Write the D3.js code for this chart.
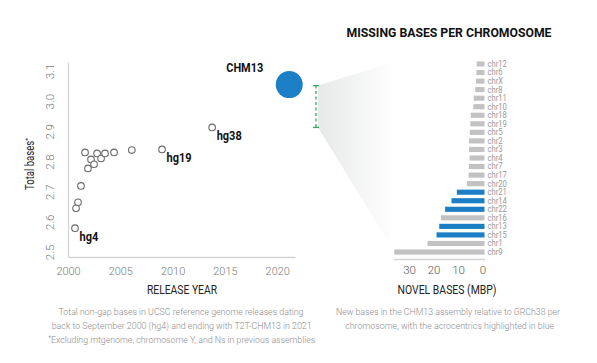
<!DOCTYPE html>
<html><head><meta charset="utf-8">
<script src="https://cdn.jsdelivr.net/npm/d3@7"></script>
<style>
html,body{margin:0;padding:0;background:#fff;}
svg{display:block;font-family:Roboto,"Noto Sans",sans-serif;}
</style></head>
<body>
<svg id="chart" width="597" height="363"></svg>
<script>
// ---------- data ----------
const releaseYears = [2000.67, 2000.77, 2000.96, 2001.24, 2001.63, 2001.91, 2002.2, 2002.49, 2002.78, 2003.16, 2003.54, 2004.4, 2006.1, 2008.99, 2013.78];
const totalBases   = [2.579, 2.645, 2.665, 2.719, 2.830, 2.777, 2.807, 2.791, 2.827, 2.810, 2.827, 2.830, 2.838, 2.840, 2.913];
const releaseNames = ["hg4", "", "", "", "", "", "", "", "", "", "", "", "", "hg19", "hg38"];
const chm13Year = 2021.15;
const chm13Total = 3.055;
const chm13Name = "CHM13";
const xTicks = [2000, 2005, 2010, 2015, 2020];
const yTicks = [2.5, 2.6, 2.7, 2.8, 2.9, 3.0, 3.1];

const chromosomes = ["chr12","chr6","chrX","chr8","chr11","chr10","chr18","chr19","chr5","chr2","chr3","chr4","chr7","chr17","chr20","chr21","chr14","chr22","chr16","chr13","chr15","chr1","chr9"];
const novelBases  = [3.2, 3.3, 3.5, 3.8, 4.4, 4.6, 5.6, 5.8, 6.0, 6.3, 6.3, 6.1, 6.4, 6.5, 7.2, 11.3, 13.5, 16.1, 17.8, 18.5, 19.6, 23.3, 36.9];
const acrocentric = ["chr13","chr14","chr15","chr21","chr22"];
const barTicks = [0, 10, 20, 30];

// ---------- helpers ----------
const svg = d3.select("#chart");
function fit(sel, w){ sel.attr("textLength", w).attr("lengthAdjust", "spacingAndGlyphs"); return sel; }
function squeeze(sel, f){ sel.each(function(){ const n=this.getComputedTextLength(); d3.select(this).attr("textLength", n*f).attr("lengthAdjust","spacingAndGlyphs"); }); return sel; }

const BLUE = "#1c7fc5";
const AXIS = "#d4d4d4";

// ---------- left scatter ----------
const x = d3.scaleLinear().domain([2000, 2021.7]).range([68, 295]);
const y = d3.scaleLinear().domain([2.4834, 3.13]).range([257, 62]);

// fan gradient
const defs = svg.append("defs");
const grad = defs.append("linearGradient").attr("id","fan").attr("x1","0").attr("x2","1").attr("y1","0").attr("y2","0");
grad.append("stop").attr("offset","0").attr("stop-color","#e7e8e8");
grad.append("stop").attr("offset","1").attr("stop-color","#ffffff");

const bx = 316;
svg.append("path")
  .attr("d", `M${bx+2},${y(chm13Total)+1} L394,62 L394,251 L${bx+2},${y(totalBases[14])} Z`)
  .attr("fill","url(#fan)");

// axes
const gx = svg.append("g").attr("transform", `translate(0,${y.range()[0]})`)
  .call(d3.axisBottom(x).tickValues(xTicks).tickFormat(d3.format("d")).tickSize(0).tickPadding(10));
const gy = svg.append("g").attr("transform", `translate(${x.range()[0]},0)`)
  .call(d3.axisLeft(y).tickValues(yTicks).tickFormat(d3.format(".1f")).tickSize(0).tickPadding(0));
[gx, gy].forEach(g => {
  g.select(".domain").attr("stroke", AXIS).attr("stroke-width", 1.3);
  g.selectAll("text").attr("fill","#7a7a7a").style("font-size","11.5px").style("font-weight","300").attr("font-family","Roboto");
});
gy.selectAll(".tick text").attr("text-anchor","middle").attr("dy",null)
  .attr("transform","translate(-18,0) rotate(-90)").attr("y", 4).attr("x", 0);
squeeze(gx.selectAll(".tick text"), 0.95);

// points
svg.append("g").selectAll("circle").data(releaseYears).join("circle")
  .attr("cx", d => x(d)).attr("cy", (d,i) => y(totalBases[i])).attr("r", 3.3)
  .attr("fill","#fff").attr("stroke","#6a6a6a").attr("stroke-width",1.1);

svg.append("g").selectAll("text").data(releaseNames.map((n,i)=>({n,i})).filter(d=>d.n)).join("text")
  .attr("x", d => x(releaseYears[d.i]) + 4.5).attr("y", d => y(totalBases[d.i]) + 13)
  .text(d => d.n).attr("fill","#111").style("font-size","12.5px").style("font-weight","700")
  .call(squeeze, 0.88);

svg.append("circle").attr("cx", x(chm13Year)).attr("cy", y(chm13Total)).attr("r", 13.5).attr("fill", BLUE);
svg.append("text").attr("x", x(chm13Year) - 26).attr("y", y(chm13Total) - 13).attr("text-anchor","end")
  .text(chm13Name).attr("fill","#111").style("font-size","12.5px").style("font-weight","700").call(fit, 37);

// bracket
const bracket = svg.append("g").attr("stroke","#3aa860").attr("stroke-width",1.3);
bracket.append("line").attr("x1",bx).attr("x2",bx).attr("y1",y(chm13Total)+1).attr("y2",y(totalBases[14])).attr("stroke-dasharray","3,2.5");
[y(chm13Total)+1, y(totalBases[14])].forEach(v => bracket.append("line").attr("x1",bx-3).attr("x2",bx+3).attr("y1",v).attr("y2",v));

// left axis titles
svg.append("text").attr("transform","translate(34,164) rotate(-90)").attr("text-anchor","middle")
  .attr("fill","#222").style("font-size","12px")
  .call(t => { t.append("tspan").text("Total bases"); t.append("tspan").text("*").attr("dy",-4).style("font-size","8px"); })
  .call(fit, 52);
svg.append("text").attr("x",182).attr("y",294).attr("text-anchor","middle").text("RELEASE YEAR")
  .attr("fill","#222").style("font-size","12px").call(fit, 70);

// captions
const capStyle = t => t.attr("fill","#8c8c8c").style("font-size","9.5px").style("font-weight","300").attr("text-anchor","middle");
svg.append("text").attr("x",181).attr("y",315).text("Total non-gap bases in UCSC reference genome releases dating").call(capStyle).call(fit,245);
svg.append("text").attr("x",181.7).attr("y",328.5).text("back to September 2000 (hg4) and ending with T2T-CHM13 in 2021").call(capStyle).call(fit,260);
svg.append("text").attr("x",181.7).attr("y",343).call(capStyle)
  .call(t => { t.append("tspan").text("*").style("font-size","7px").attr("dy",-3); t.append("tspan").text("Excluding mtgenome, chromosome Y, and Ns in previous assemblies").attr("dy",3); })
  .call(fit,267);

svg.append("text").attr("x",448).attr("y",315).text("New bases in the CHM13 assembly relative to GRCh38 per").call(capStyle).call(fit,224);
svg.append("text").attr("x",449.7).attr("y",328.5).text("chromosome, with the acrocentrics highlighted in blue").call(capStyle).call(fit,209);

// ---------- right bar chart ----------
svg.append("text").attr("x",449).attr("y",37).attr("text-anchor","middle").text("MISSING BASES PER CHROMOSOME")
  .attr("fill","#111").style("font-size","13.5px").style("font-weight","700").call(fit, 205);

const xb = d3.scaleLinear().domain([0, 37.4]).range([484.5, 393]);
const yb = d3.scaleBand().domain(chromosomes).range([59.7, 256.3]).paddingInner(0.4).paddingOuter(0.2);

svg.append("g").selectAll("rect").data(chromosomes).join("rect")
  .attr("x", (d,i) => xb(novelBases[i])).attr("width", (d,i) => xb(0) - xb(novelBases[i]))
  .attr("y", d => yb(d)).attr("height", yb.bandwidth())
  .attr("fill", d => acrocentric.includes(d) ? BLUE : "#c2c2c2");

const gyb = svg.append("g").attr("transform", `translate(${xb(0)},0)`)
  .call(d3.axisRight(yb).tickSize(0).tickPadding(3));
gyb.select(".domain").remove();
gyb.selectAll("text").attr("fill","#999").style("font-size","9px").attr("font-family","Roboto").call(squeeze, 0.85);

const gxb = svg.append("g").attr("transform","translate(0,259)")
  .call(d3.axisBottom(xb).tickValues(barTicks).tickSize(0).tickPadding(7));
gxb.select(".domain").attr("stroke", AXIS).attr("stroke-width",1.3);
gxb.selectAll("text").attr("fill","#555").style("font-size","11.5px").style("font-weight","300").attr("font-family","Roboto")
  .attr("dx",-2);

svg.append("text").attr("x",447).attr("y",294).attr("text-anchor","middle").text("NOVEL BASES (MBP)")
  .attr("fill","#222").style("font-size","12px").call(fit, 99);
</script>
</body></html>
